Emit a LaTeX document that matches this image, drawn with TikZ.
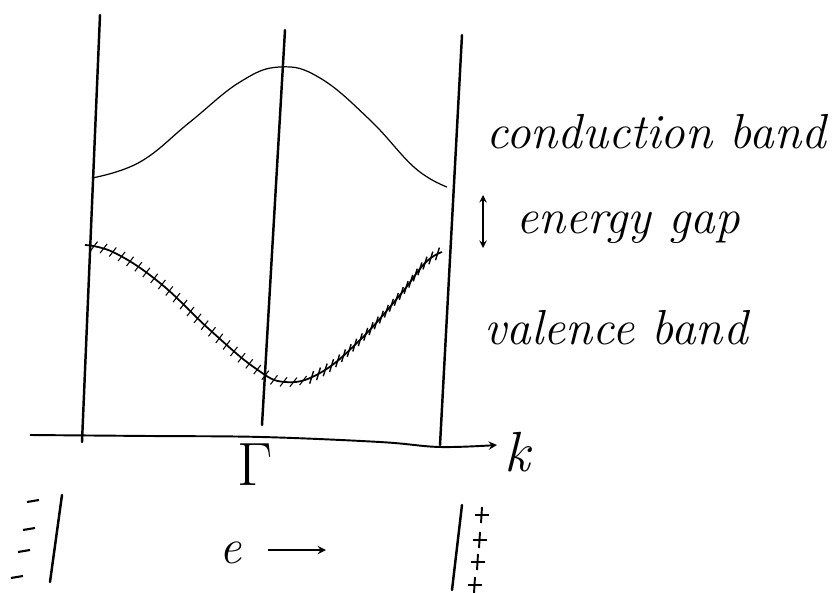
\documentclass[tikz,border=0pt]{standalone}
\usepackage{amssymb,amsmath}
\usepackage{tikz}
\usetikzlibrary{decorations.markings}

\tikzset{
	wall/.style={line width=1.4pt, line cap=round},
	band/.style={line width=0.7pt},
	valhatch/.style={line width=1pt, postaction={decorate}, decoration={markings,
		mark=between positions 0.02 and 0.58 step 5.6pt with {\pgftransformresetnontranslations \draw[line width=0.6pt] (-2pt,-2.6pt) -- (2pt,2.6pt);},
		mark=between positions 0.6 and 0.99 step 4.4pt with {\pgftransformresetnontranslations \draw[line width=0.8pt] (-1.1pt,-3.6pt) -- (1.1pt,3.6pt);}}},
	label/.style={font=\fontsize{28}{32}\selectfont\itshape, inner sep=0pt}
}

\begin{document}
\begin{tikzpicture}[>=stealth, x=0.02cm, y=-0.02cm]
		\useasboundingbox (0,0) rectangle (835,592);
		% zone boundaries and Gamma line
		\coordinate (L1) at (100,15);
		\coordinate (L2) at (82,442);
		\coordinate (G1) at (285,30);
		\coordinate (G2) at (262,425);
		\coordinate (R1) at (462,35);
		\coordinate (R2) at (440,445);
		\draw[wall] (L1) -- (L2);
		\draw[wall] (G1) -- (G2);
		\draw[wall] (R1) -- (R2);
		% k axis
		\draw[->, line width=1.1pt] plot[smooth, tension=0.6] coordinates {(30,435) (150,436) (262,437) (380,442) (440,447) (497,445)};
		\node[label] (k) at (517,452) {\scalebox{1.15}{k}};
		\node[label] (gamma) at (255,465) {\scalebox{1.4}{$\Gamma$}};
		% conduction band
		\draw[band] plot[smooth, tension=0.7] coordinates {(92,178) (140,162) (190,122) (240,82) (280,67) (320,78) (370,120) (415,168) (447,187)};
		% valence band (hatched)
		\draw[valhatch] plot[smooth, tension=0.7] coordinates {(85,245) (115,253) (160,283) (210,330) (255,368) (285,382) (320,373) (360,340) (400,295) (425,263) (442,252)};
		% labels
		\node[label] (cb) at (656,132) {conduction band};
		\coordinate (gap1) at (483,195);
		\coordinate (gap2) at (483,248);
		\draw[<->, line width=0.9pt] (gap1) -- (gap2);
		\node[label] (eg) at (628,228) {energy gap};
		\node[label] (vb) at (616,328) {valence band};
		% plates with charges
		\coordinate (P1) at (62,495);
		\coordinate (P2) at (50,582);
		\coordinate (Q1) at (462,505);
		\coordinate (Q2) at (452,590);
		\draw[wall] (P1) -- (P2);
		\draw[wall] (Q1) -- (Q2);
		\foreach \x/\y in {33/501, 29/529, 24/551, 17/577}
			\draw[line width=1.2pt] (\x-6,\y+1) -- (\x+6,\y-1);
		\foreach \x/\y in {482/515, 480/540, 478/562, 475/585}
		{
			\draw[line width=1.1pt] (\x,\y-8) -- (\x-1,\y+8);
			\draw[line width=0.6pt] (\x-7,\y) -- (\x+7,\y);
		}
		\node[label] (e) at (231,553) {e};
		\coordinate (ea) at (268,550);
		\coordinate (eb) at (326,550);
		\draw[->, line width=1.1pt] (ea) -- (eb);
	\end{tikzpicture}
\end{document}
